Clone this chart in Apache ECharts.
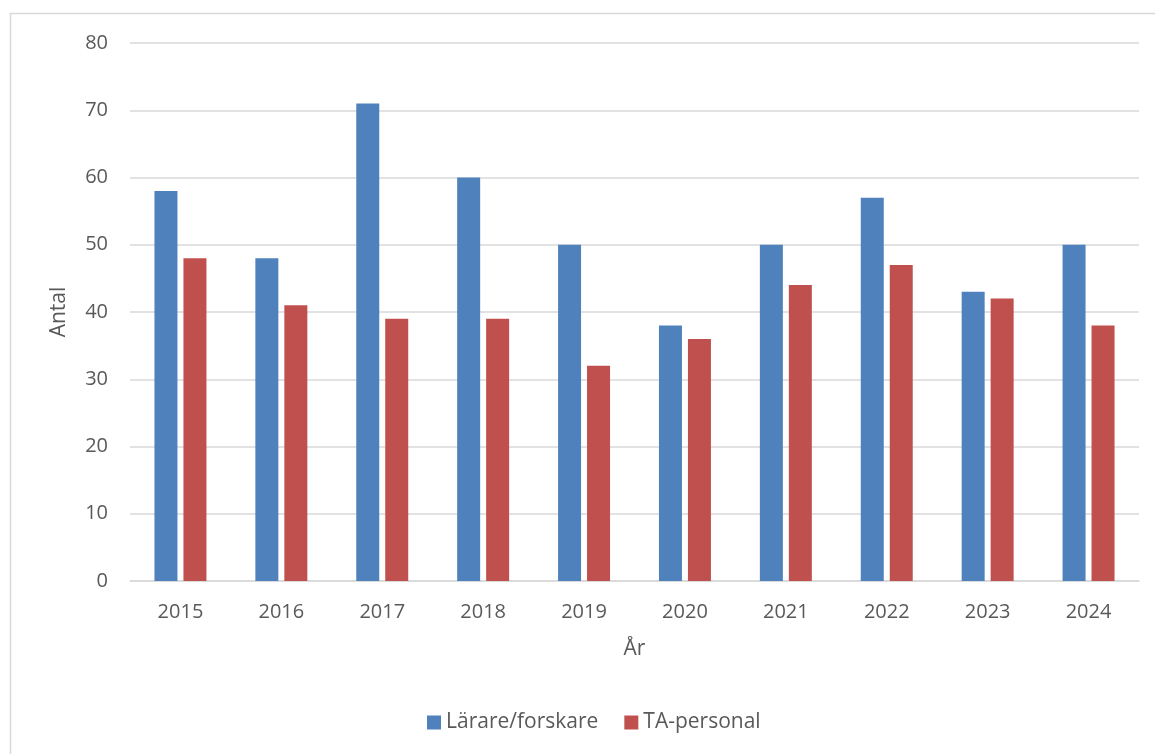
<!DOCTYPE html>
<html>
<head>
<meta charset="utf-8">
<script src="https://cdn.jsdelivr.net/npm/echarts@6/dist/echarts.min.js"></script>
<style>
  html, body { margin: 0; padding: 0; background: #fff; }
  #chart { width: 1155px; height: 754px; }
</style>
</head>
<body>
<div id="chart"></div>
<script>
// Antal per år, två personalkategorier
const years = ['2015', '2016', '2017', '2018', '2019', '2020', '2021', '2022', '2023', '2024'];
const lararForskare = [58, 48, 71, 60, 50, 38, 50, 57, 43, 50];
const taPersonal = [48, 41, 39, 39, 32, 36, 44, 47, 42, 38];
const seriesNames = ['Lärare/forskare', 'TA-personal'];

const textColor = '#595959';
const fontFamily = '"Open Sans", "Noto Sans", sans-serif';

const chart = echarts.init(document.getElementById('chart'), null, { renderer: 'canvas' });
chart.setOption({
  animation: false,
  textStyle: { fontFamily: fontFamily, color: textColor },
  graphic: [{
    type: 'rect',
    shape: { x: 10.5, y: 13.5, width: 1160, height: 800 },
    style: { fill: 'none', stroke: '#d9d9d9', lineWidth: 1.5 },
    silent: true
  }],
  grid: { left: 130, right: 16, top: 43, bottom: 173 },
  legend: {
    data: seriesNames,
    bottom: 16,
    left: 422,
    itemWidth: 14,
    itemHeight: 14,
    itemGap: 26,
    icon: 'rect',
    textStyle: { fontSize: 21, color: textColor, fontFamily: fontFamily }
  },
  xAxis: {
    type: 'category',
    data: years,
    name: 'År',
    nameLocation: 'middle',
    nameGap: 58,
    nameTextStyle: { fontSize: 21, color: textColor },
    axisLine: { lineStyle: { color: '#d9d9d9', width: 1.5 } },
    axisTick: { show: false },
    axisLabel: { fontSize: 20, color: textColor, margin: 21 }
  },
  yAxis: {
    type: 'value',
    min: 0,
    max: 80,
    interval: 10,
    name: 'Antal',
    nameLocation: 'middle',
    nameGap: 60,
    nameTextStyle: { fontSize: 21, color: textColor },
    axisLine: { show: false },
    axisTick: { show: false },
    axisLabel: { fontSize: 20, color: textColor, margin: 22 },
    splitLine: { lineStyle: { color: '#d9d9d9', width: 1.5 } }
  },
  series: [
    {
      name: seriesNames[0],
      type: 'bar',
      data: lararForskare,
      barWidth: 23,
      barGap: '26%',
      itemStyle: { color: '#4f81bd' }
    },
    {
      name: seriesNames[1],
      type: 'bar',
      data: taPersonal,
      barWidth: 23,
      itemStyle: { color: '#c0504d' }
    }
  ]
});
</script>
</body>
</html>
